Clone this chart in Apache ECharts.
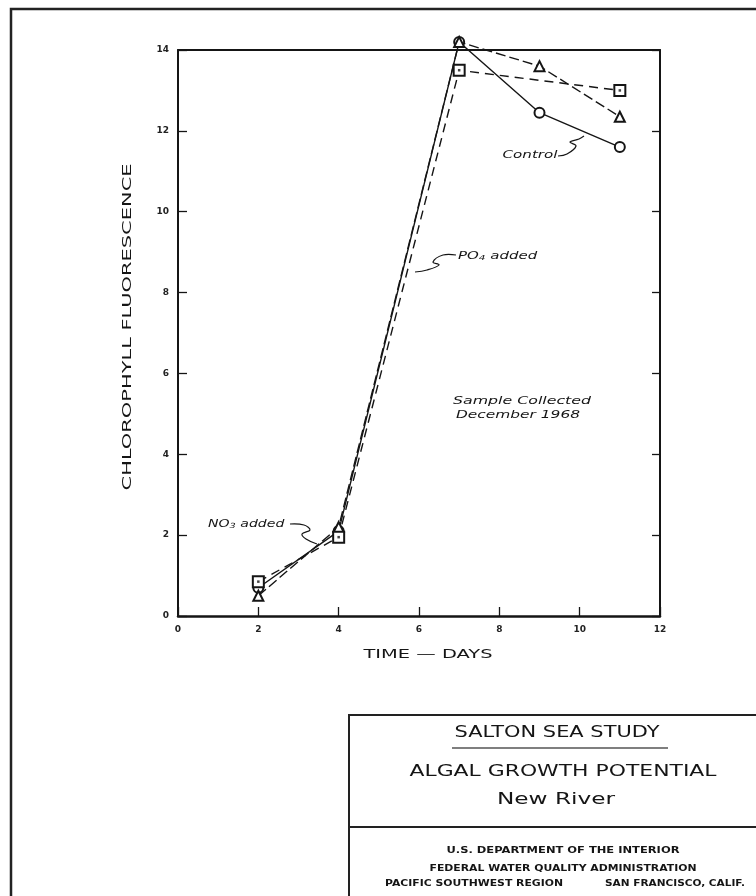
<!DOCTYPE html>
<html>
<head>
<meta charset="utf-8">
<script src="https://cdn.jsdelivr.net/npm/echarts@6/dist/echarts.min.js"></script>
<style>
html,body{margin:0;padding:0;background:#fff;}
#chart{width:756px;height:896px;}
</style>
</head>
<body>
<div id="chart"></div>
<script>
// ---- data ----
const xTicks = [0, 2, 4, 6, 8, 10, 12];
const yTicks = [0, 2, 4, 6, 8, 10, 12, 14];
const controlDays = [2, 4, 7, 9, 11];
const controlValues = [0.7, 2.1, 14.2, 12.45, 11.6];
const no3Days = [2, 4, 7, 9, 11];
const no3Values = [0.5, 2.2, 14.2, 13.6, 12.35];
const po4Days = [2, 4, 7, 11];
const po4Values = [0.85, 1.95, 13.5, 13.0];

const xTitle = 'TIME — DAYS';
const yTitle = 'CHLOROPHYLL FLUORESCENCE';
const titleLines = ['SALTON SEA STUDY', 'ALGAL GROWTH POTENTIAL', 'New River'];
const agencyLines = ['U.S. DEPARTMENT OF THE INTERIOR', 'FEDERAL WATER QUALITY ADMINISTRATION', 'PACIFIC SOUTHWEST REGION', 'SAN FRANCISCO, CALIF.'];
const notes = ['Control', 'PO4 added', 'NO3 added', 'Sample Collected', 'December 1968'];

// ---- helpers ----
const ctx = document.createElement('canvas').getContext('2d');
function fit(text, font, w) { ctx.font = font; return w / ctx.measureText(text).width; }
function pairs(xs, ys) { return xs.map((x, i) => [x, ys[i]]); }
const FF = '"DejaVu Sans", sans-serif';
const INK = '#151515';

function txt(text, cx, cy, size, width, opts) {
  opts = opts || {};
  const weight = opts.weight || 'normal';
  const style = opts.style || 'normal';
  const font = style + ' ' + weight + ' ' + size + 'px ' + FF;
  return {
    type: 'text', x: cx, y: cy, rotation: opts.rotation || 0,
    scaleX: fit(text, font, width), z: 10,
    style: {
      text: text, font: font, fill: opts.fill || INK,
      align: opts.align || 'center', verticalAlign: 'middle'
    }
  };
}
function subText(base, sub, rest, x, y, width) {
  const font = 'italic normal 10px ' + FF;
  return { type: 'text', x: x, y: y, z: 10, scaleX: fit(base + sub + rest, font, width),
    style: { text: base + '{s|' + sub + '}' + rest, font: font, fill: INK,
      align: 'left', verticalAlign: 'middle',
      rich: { s: { fontSize: 7, fontStyle: 'italic', fontFamily: FF, fill: INK, verticalAlign: 'bottom', padding: [5, 0, 0, 0] } } } };
}
function line(points, w, color) {
  return { type: 'polyline', z: 10, shape: { points: points, smooth: 0.4 },
    style: { stroke: color || INK, lineWidth: w || 1.2, fill: null } };
}

const chart = echarts.init(document.getElementById('chart'), null, { renderer: 'canvas' });

const axisLabelStyle = { fontSize: 9, fontWeight: 'bold', color: '#222', fontFamily: FF };

const option = {
  backgroundColor: '#fff',
  animation: false,
  grid: { left: 178, right: 96, top: 50, bottom: 280, containLabel: false },
  xAxis: [
    { type: 'value', min: xTicks[0], max: xTicks[xTicks.length - 1], interval: 2, position: 'bottom',
      axisLine: { show: true, onZero: false, lineStyle: { color: INK, width: 2.5 } },
      axisTick: { show: true, inside: true, length: 9, lineStyle: { color: INK, width: 1.3 } },
      axisLabel: Object.assign({ margin: 9 }, axisLabelStyle),
      splitLine: { show: false } },
    { type: 'value', min: xTicks[0], max: xTicks[xTicks.length - 1], interval: 2, position: 'top',
      axisLine: { show: true, onZero: false, lineStyle: { color: INK, width: 2 } },
      axisTick: { show: false }, axisLabel: { show: false }, splitLine: { show: false } }
  ],
  yAxis: [
    { type: 'value', min: yTicks[0], max: yTicks[yTicks.length - 1], interval: 2, position: 'left',
      axisLine: { show: true, onZero: false, lineStyle: { color: INK, width: 2 } },
      axisTick: { show: true, inside: true, length: 9, lineStyle: { color: INK, width: 1.3 } },
      axisLabel: Object.assign({ margin: 9 }, axisLabelStyle),
      splitLine: { show: false } },
    { type: 'value', min: yTicks[0], max: yTicks[yTicks.length - 1], interval: 2, position: 'right',
      axisLine: { show: true, onZero: false, lineStyle: { color: INK, width: 2 } },
      axisTick: { show: true, inside: true, length: 8, lineStyle: { color: INK, width: 1.3 } },
      axisLabel: { show: false }, splitLine: { show: false } }
  ],
  series: [
    { name: 'Control', type: 'line', clip: false, data: pairs(controlDays, controlValues),
      symbol: 'emptyCircle', symbolSize: 10,
      lineStyle: { color: INK, width: 1.4, type: 'solid' },
      itemStyle: { color: INK, borderColor: INK, borderWidth: 1.6 } },
    { name: 'NO3 added', type: 'line', clip: false, data: pairs(no3Days, no3Values),
      symbol: 'emptyTriangle', symbolSize: 10,
      lineStyle: { color: INK, width: 1.4, type: [10, 4] },
      itemStyle: { color: INK, borderColor: INK, borderWidth: 1.6 } },
    { name: 'PO4 added', type: 'line', clip: false, data: pairs(po4Days, po4Values),
      symbol: 'emptyRect', symbolSize: 11,
      lineStyle: { color: INK, width: 1.4, type: [9, 6] },
      itemStyle: { color: INK, borderColor: INK, borderWidth: 1.6 } },
    { name: 'PO4 centre', type: 'scatter', clip: false, z: 5, data: pairs(po4Days, po4Values),
      symbol: 'rect', symbolSize: 2.5, itemStyle: { color: INK }, silent: true }
  ],
  graphic: [
    // outer sheet border
    { type: 'rect', z: 1, shape: { x: 11, y: 9, width: 900, height: 1000 },
      style: { stroke: '#222', lineWidth: 2.5, fill: null } },
    // axis titles
    txt(yTitle, 128, 327, 12, 327, { rotation: Math.PI / 2 }),
    txt(xTitle, 428, 655, 12, 129),
    // annotations
    txt(notes[0], 530, 155, 10, 55, { style: 'italic' }),
    line([[558, 156], [567, 154], [576, 146], [570, 142], [579, 139], [584, 136]]),
    subText('PO', '4', ' added', 458, 256, 82),
    line([[456, 255], [443, 255], [433, 262], [439, 265], [427, 270], [415, 272]]),
    subText('NO', '3', ' added', 208, 524, 79),
    line([[290, 524], [304, 525], [310, 530], [302, 534], [306, 539], [317, 544]]),
    txt(notes[3], 522, 401, 10, 138, { style: 'italic' }),
    txt(notes[4], 518, 415, 10, 124, { style: 'italic' }),
    // title block
    { type: 'rect', z: 1, shape: { x: 349, y: 715, width: 600, height: 400 },
      style: { stroke: '#222', lineWidth: 2, fill: null } },
    { type: 'line', z: 1, shape: { x1: 349, y1: 827, x2: 800, y2: 827 },
      style: { stroke: '#222', lineWidth: 2 } },
    txt(titleLines[0], 557, 733, 15, 205),
    { type: 'line', z: 1, shape: { x1: 452, y1: 748, x2: 668, y2: 748 },
      style: { stroke: '#555', lineWidth: 1.5 } },
    txt(titleLines[1], 563, 772, 16, 307),
    txt(titleLines[2], 556, 800, 16, 118),
    txt(agencyLines[0], 563, 851, 8, 233, { weight: 'bold' }),
    txt(agencyLines[1], 563, 869, 8, 267, { weight: 'bold' }),
    txt(agencyLines[2], 474, 884, 8, 178, { weight: 'bold' }),
    txt(agencyLines[3], 675, 884, 8, 140, { weight: 'bold' })
  ]
};
chart.setOption(option);
</script>
</body>
</html>
